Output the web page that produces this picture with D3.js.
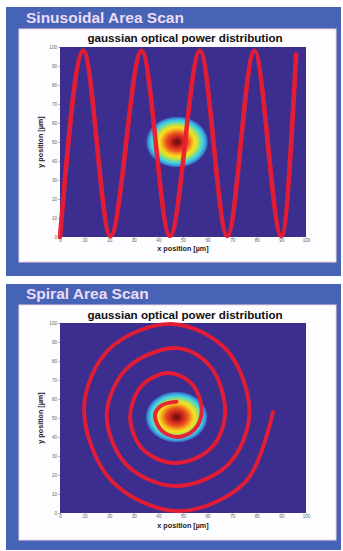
<!DOCTYPE html>
<html><head><meta charset="utf-8">
<script src="https://cdn.jsdelivr.net/npm/d3@7"></script>
<style>
html,body{margin:0;padding:0;background:#fff;}
svg{display:block;}
</style></head>
<body>
<svg id="c" width="343" height="551"></svg>
<script>
// ---- data ----
const panelTitles = ["Sinusoidal Area Scan", "Spiral Area Scan"];
const chartTitle = "gaussian optical power distribution";
const xLabel = "x position [µm]";
const yLabel = "y position [µm]";
const xTicks = [0,10,20,30,40,50,60,70,80,90,100];
const yTicks = [0,10,20,30,40,50,60,70,80,90,100];

// sinusoidal scan: turning points
const sineX = [0, 9.5, 20.5, 33.2, 44.7, 56.9, 68.0, 79.0, 90.0, 96.0];
const sineY = [0, 98, 0.5, 98, 0.5, 98, 0.5, 98, 0.5, 96];

// spiral scan: points, from the centre outwards
const spiralX = [47.4, 41.2, 38.6, 41.3, 48.0, 54.8, 57.6, 53.6, 43.9, 33.0, 28.5, 33.8, 46.7, 61.1, 67.1, 61.5,
                 48.0, 27.5, 19.0, 27.2, 47.2, 68.3, 77.0, 67.8, 45.5, 20.2, 9.8, 20.9, 48.0, 75.3, 86.6];
const spiralY = [58.6, 56.5, 51.6, 43.4, 40.0, 44.2, 54.2, 68.0, 73.7, 66.7, 50.0, 33.3, 26.3, 33.7, 51.6, 76.5,
                 86.8, 76.5, 51.6, 25.2, 14.2, 25.5, 52.6, 85.7, 99.5, 86.5, 55.3, 17.0, 1.0, 16.3, 53.2];

// gaussian spot: centre and outer radius (data units)
const gaussCenterTop = [47.6, 50.0];
const gaussCenterBottom = [47.4, 50.5];
const gaussRadius = [12.8, 13.6];
const gaussStops = [0, 0.1, 0.22, 0.34, 0.46, 0.56, 0.66, 0.74, 0.82, 0.9, 0.96, 1];
const gaussColors = ["#660c10","#901414","#cf2a1c","#e8501e","#f5a020","#f7e020","#c4e044","#72dca0","#40d2e2","#3a9edc","#3b66c0","#3c2e8f"];

// ---- layout ----
const svg = d3.select("#c");
const panels = [
  {blue:[6,7,335,269], white:[19,29,317,233], title:23, ctitle:42, plot:[60,47,306,237], xlab:251},
  {blue:[6,284,335,266], white:[19,305,317,235], title:299, ctitle:319, plot:[60,323,306,513], xlab:528}
];
const FONT = "Liberation Sans, Arial, sans-serif";

const defs = svg.append("defs");
const grad = defs.append("radialGradient").attr("id","gauss");
gaussStops.forEach((o,i)=>grad.append("stop").attr("offset",o).attr("stop-color",gaussColors[i]).attr("stop-opacity", i===gaussStops.length-1?0:1));
defs.append("filter").attr("id","soft").append("feGaussianBlur").attr("stdDeviation",0.45);

panels.forEach((p,k)=>{
  const g = svg.append("g");
  g.append("rect").attr("x",p.blue[0]).attr("y",p.blue[1]).attr("width",p.blue[2]).attr("height",p.blue[3]).attr("fill","#4663b5");
  g.append("rect").attr("x",p.white[0]).attr("y",p.white[1]).attr("width",p.white[2]).attr("height",p.white[3]).attr("fill","#fdfcfe").attr("stroke","#f2d6e2").attr("stroke-width",1);
  g.append("text").attr("x",26).attr("y",p.title).text(panelTitles[k])
    .attr("font-family",FONT).attr("font-weight","bold").attr("font-size",15.5).attr("fill","#ecdcf6");
  g.append("text").attr("x",185).attr("y",p.ctitle).attr("text-anchor","middle").text(chartTitle)
    .attr("font-family",FONT).attr("font-weight","bold").attr("font-size",11.6).attr("fill","#111");

  const x = d3.scaleLinear().domain([0,100]).range([p.plot[0],p.plot[2]]);
  const y = d3.scaleLinear().domain([0,100]).range([p.plot[3],p.plot[1]]);

  g.append("rect").attr("x",x(0)).attr("y",y(100)).attr("width",x(100)-x(0)).attr("height",y(0)-y(100)).attr("fill","#3c2e8f");

  const clipId = "clip"+k;
  defs.append("clipPath").attr("id",clipId).append("rect").attr("x",x(0)).attr("y",y(100)).attr("width",x(100)-x(0)).attr("height",y(0)-y(100));

  const gc = k===0?gaussCenterTop:gaussCenterBottom;
  g.append("ellipse").attr("clip-path","url(#"+clipId+")")
    .attr("cx",x(gc[0])).attr("cy",y(gc[1]))
    .attr("rx",x(gaussRadius[0])-x(0)).attr("ry",y(0)-y(gaussRadius[1]))
    .attr("fill","url(#gauss)");

  // axes
  const ax = g.append("g").attr("transform",`translate(0,${y(0)})`)
    .call(d3.axisBottom(x).tickValues(xTicks).tickSize(1.5).tickPadding(0.5));
  const ay = g.append("g").attr("transform",`translate(${x(0)},0)`)
    .call(d3.axisLeft(y).tickValues(yTicks).tickSize(2).tickPadding(1));
  [ax,ay].forEach(a=>{
    a.select(".domain").remove();
    a.selectAll("line").attr("stroke","#888").attr("stroke-width",0.6);
    a.selectAll("text").attr("font-family",FONT).attr("font-size",4.6).attr("fill","#666");
  });

  g.append("text").attr("x",183).attr("y",p.xlab).attr("text-anchor","middle").text(xLabel)
    .attr("font-family",FONT).attr("font-weight","bold").attr("font-size",7.2).attr("fill","#222");
  const cyl = (p.plot[1]+p.plot[3])/2;
  g.append("text").attr("transform",`translate(43,${cyl}) rotate(-90)`).attr("text-anchor","middle").text(yLabel)
    .attr("font-family",FONT).attr("font-weight","bold").attr("font-size",7.2).attr("fill","#222");

  // scan path
  let pts, curve, width;
  if(k===0){ pts = sineX.map((v,i)=>[v,sineY[i]]); curve = d3.curveMonotoneX; width = 4.6; }
  else { pts = spiralX.map((v,i)=>[v,spiralY[i]]); curve = d3.curveCatmullRom.alpha(0.5); width = 3.9; }
  const line = d3.line().x(d=>x(d[0])).y(d=>y(d[1])).curve(curve);
  g.append("path").attr("d",line(pts)).attr("fill","none").attr("stroke","#ec1c30")
    .attr("stroke-width",width).attr("stroke-linecap","round").attr("stroke-linejoin","round")
    .attr("opacity",0.95).attr("filter","url(#soft)");
});
</script>
</body></html>
